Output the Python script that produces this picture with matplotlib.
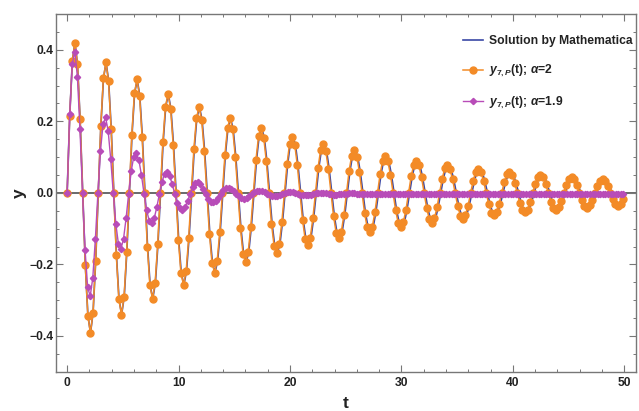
import numpy as np
import matplotlib as mpl
import matplotlib.pyplot as plt
from matplotlib.ticker import MultipleLocator

mpl.rcParams['font.family'] = ['Liberation Sans', 'DejaVu Sans']
mpl.rcParams['mathtext.fontset'] = 'custom'
mpl.rcParams['mathtext.rm'] = 'Liberation Sans:bold'
mpl.rcParams['mathtext.it'] = 'Liberation Sans:bold:italic'
mpl.rcParams['mathtext.bf'] = 'Liberation Sans:bold'

# sample spacing of each series (12 samples per oscillation)
dt_exact = 0.2328
dt_a2 = 0.2321
dt_a19 = 0.23

# y_{7,P}(t), alpha = 2  (one row per oscillation)
y_a2 = [
    0, 0.2150, 0.3680, 0.4200, 0.3595, 0.2051, 0, -0.2004, -0.3430, -0.3915, -0.3351, -0.1912,
    0, 0.1868, 0.3197, 0.3649, 0.3123, 0.1782, 0, -0.1741, -0.2980, -0.3401, -0.2911, -0.1661,
    0, 0.1623, 0.2778, 0.3170, 0.2713, 0.1548, 0, -0.1512, -0.2589, -0.2955, -0.2529, -0.1443,
    0, 0.1410, 0.2413, 0.2754, 0.2357, 0.1345, 0, -0.1314, -0.2249, -0.2567, -0.2197, -0.1254,
    0, 0.1225, 0.2097, 0.2393, 0.2048, 0.1169, 0, -0.1142, -0.1954, -0.2230, -0.1909, -0.1089,
    0, 0.1064, 0.1821, 0.2079, 0.1779, 0.1015, 0, -0.0992, -0.1698, -0.1938, -0.1658, -0.0946,
    0, 0.0924, 0.1582, 0.1806, 0.1546, 0.0882, 0, -0.0862, -0.1475, -0.1683, -0.1441, -0.0822,
    0, 0.0803, 0.1375, 0.1569, 0.1343, 0.0766, 0, -0.0749, -0.1282, -0.1463, -0.1252, -0.0714,
    0, 0.0698, 0.1194, 0.1363, 0.1167, 0.0666, 0, -0.0650, -0.1113, -0.1271, -0.1088, -0.0621,
    0, 0.0606, 0.1038, 0.1184, 0.1014, 0.0578, 0, -0.0565, -0.0967, -0.1104, -0.0945, -0.0539,
    0, 0.0527, 0.0902, 0.1029, 0.0881, 0.0503, 0, -0.0491, -0.0840, -0.0959, -0.0821, -0.0468,
    0, 0.0458, 0.0783, 0.0894, 0.0765, 0.0437, 0, -0.0427, -0.0730, -0.0833, -0.0713, -0.0407,
    0, 0.0398, 0.0681, 0.0777, 0.0665, 0.0379, 0, -0.0371, -0.0634, -0.0724, -0.0620, -0.0354,
    0, 0.0345, 0.0591, 0.0675, 0.0578, 0.0330, 0, -0.0322, -0.0551, -0.0629, -0.0538, -0.0307,
    0, 0.0300, 0.0514, 0.0586, 0.0502, 0.0286, 0, -0.0280, -0.0479, -0.0546, -0.0468, -0.0267,
    0, 0.0261, 0.0446, 0.0509, 0.0436, 0.0249, 0, -0.0243, -0.0416, -0.0475, -0.0406, -0.0232,
    0, 0.0226, 0.0388, 0.0442, 0.0379, 0.0216, 0, -0.0211, -0.0361, -0.0412, -0.0353, -0.0201,
    0, 0.0197, 0.0337, 0.0384, 0.0329, 0.0188, 0, -0.0183, -0.0314, -0.0358, -0.0307, -0.0175,
]

# Mathematica solution: same heights as alpha=2, runs a little slower
y_exact = list(y_a2)

# y_{7,P}(t), alpha = 1.9
y_a19 = [
    0, 0.2192, 0.3604, 0.3950, 0.3248, 0.1780, 0, -0.1604, -0.2638, -0.2892, -0.2378, -0.1303,
    -0.001, 0.1165, 0.1921, 0.2107, 0.1731, 0.0944, -0.001, -0.0870, -0.1424, -0.1560, -0.1284, -0.0709,
    -0.002, 0.0610, 0.1015, 0.1115, 0.0913, 0.0491, -0.002, -0.0481, -0.0778, -0.0851, -0.0703, -0.0394,
    -0.003, 0.0308, 0.0525, 0.0578, 0.0470, 0.0244, -0.003, -0.0277, -0.0436, -0.0475, -0.0396, -0.0231,
    -0.003, 0.0151, 0.0267, 0.0296, 0.0238, 0.0117, -0.003, -0.0162, -0.0248, -0.0269, -0.0226, -0.0138,
    -0.003, 0.0067, 0.0129, 0.0145, 0.0114, 0.0049, -0.003, -0.0101, -0.0147, -0.0158, -0.0135, -0.0088,
    -0.003, 0.0022, 0.0056, 0.0064, 0.0047, 0.0012, -0.003, -0.0068, -0.0093, -0.0099, -0.0086, -0.0061,
    -0.003, -0.0002, 0.0016, 0.0020, 0.0011, -0.0007, -0.003, -0.0050, -0.0064, -0.0067, -0.0060, -0.0047,
    -0.003, -0.0015, -0.0006, -0.0003, -0.0008, -0.0018, -0.003, -0.0041, -0.0048, -0.0050, -0.0046, -0.0039,
    -0.003, -0.0022, -0.0017, -0.0016, -0.0018, -0.0023, -0.003, -0.0036, -0.0040, -0.0041, -0.0039, -0.0035,
    -0.003, -0.003, -0.003, -0.003, -0.003, -0.003, -0.003, -0.003, -0.003, -0.003, -0.003, -0.003,
    -0.003, -0.003, -0.003, -0.003, -0.003, -0.003, -0.003, -0.003, -0.003, -0.003, -0.003, -0.003,
    -0.003, -0.003, -0.003, -0.003, -0.003, -0.003, -0.003, -0.003, -0.003, -0.003, -0.003, -0.003,
    -0.003, -0.003, -0.003, -0.003, -0.003, -0.003, -0.003, -0.003, -0.003, -0.003, -0.003, -0.003,
    -0.003, -0.003, -0.003, -0.003, -0.003, -0.003, -0.003, -0.003, -0.003, -0.003, -0.003, -0.003,
    -0.003, -0.003, -0.003, -0.003, -0.003, -0.003, -0.003, -0.003, -0.003, -0.003, -0.003, -0.003,
    -0.003, -0.003, -0.003, -0.003, -0.003, -0.003, -0.003, -0.003, -0.003, -0.003, -0.003, -0.003,
    -0.003, -0.003, -0.003, -0.003, -0.003, -0.003, -0.003, -0.003, -0.003, -0.003, -0.003, -0.003,
    -0.003, -0.003,
]

t_exact = np.arange(len(y_exact)) * dt_exact
t_a2 = np.arange(len(y_a2)) * dt_a2
t_a19 = np.arange(len(y_a19)) * dt_a19

blue = '#3a48a6'
orange = '#f38b27'
purple = '#b84cb8'
frame = '#777777'

dpi = 100
fig = plt.figure(figsize=(639 / dpi, 411 / dpi), dpi=dpi)
ax = fig.add_axes([56 / 639, 1 - 371.7 / 411, 579.5 / 639, 357.7 / 411])

ax.axhline(0, color='#505050', lw=1.2, zorder=1.5)
ax.plot(t_exact, y_exact, color=blue, lw=1.2, zorder=2,
        label='Solution by Mathematica')
ax.plot(t_a2, y_a2, color=orange, lw=1.1, marker='o', ms=5.0, zorder=3,
        label=r'$y_{7,P}$(t); $\alpha$=2')
ax.plot(t_a19, y_a19, color=purple, lw=1.0, marker='D', ms=3.2, zorder=4,
        label=r'$y_{7,P}$(t); $\alpha$=1.9')

ax.set_xlim(-1, 51)
ax.set_ylim(-0.5, 0.5)
ax.xaxis.set_major_locator(MultipleLocator(10))
ax.xaxis.set_minor_locator(MultipleLocator(2))
ax.yaxis.set_major_locator(MultipleLocator(0.2))
ax.yaxis.set_minor_locator(MultipleLocator(0.05))

for s in ax.spines.values():
    s.set_color(frame)
    s.set_linewidth(1.0)
ax.tick_params(which='both', direction='in', top=True, right=True,
               colors=frame, labelcolor='#222222', labelsize=8.7)
ax.tick_params(which='major', length=5, width=0.8)
ax.tick_params(which='minor', length=2.5, width=0.7)
ax.tick_params(axis='y', pad=2)
ax.tick_params(axis='x', pad=4)
for lab in ax.get_xticklabels() + ax.get_yticklabels():
    lab.set_fontweight('bold')

ax.set_xlabel('t', fontsize=12.5, fontweight='bold', color='#222222')
ax.set_ylabel('y', fontsize=12.5, fontweight='bold', color='#222222')
ax.xaxis.set_label_coords(0.5, -0.068)
ax.yaxis.set_label_coords(-0.05, 0.5)

leg = ax.legend(loc='upper left', bbox_to_anchor=(0.703, 0.94), frameon=False,
                fontsize=8.7, numpoints=1, handlelength=1.6, handletextpad=0.55,
                labelspacing=1.3, borderpad=0, borderaxespad=0)
for txt in leg.get_texts():
    txt.set_fontweight('bold')
    txt.set_color('#222222')

fig.savefig('out.png', dpi=dpi)
